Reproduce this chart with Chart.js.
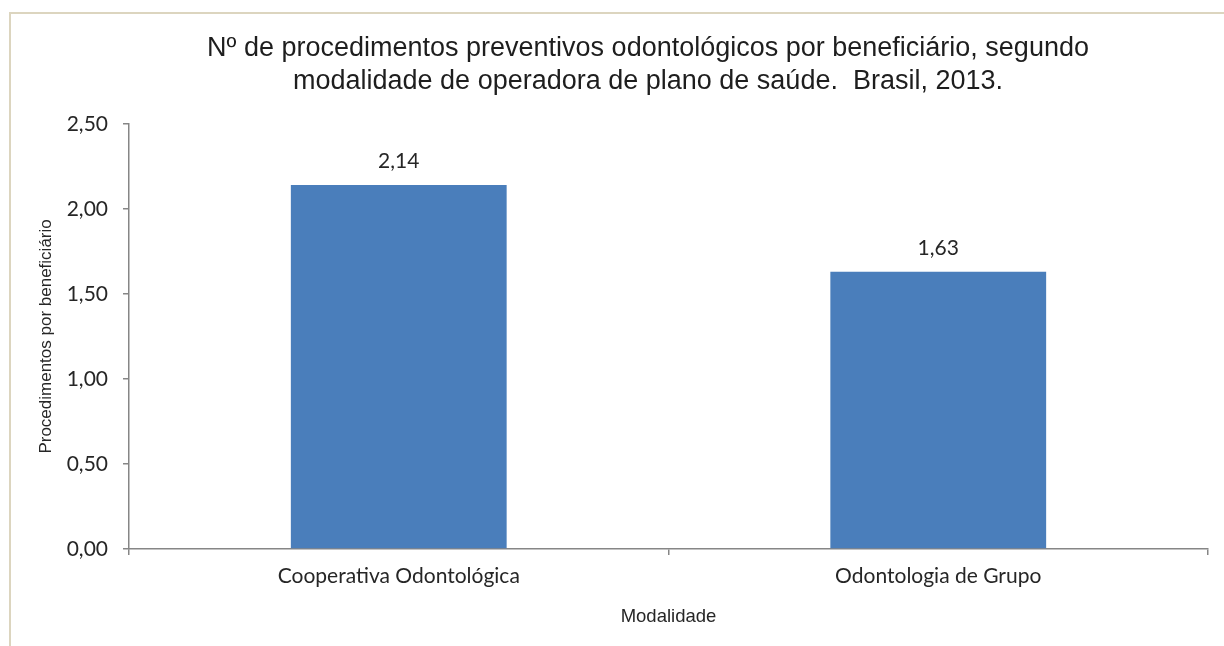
<!DOCTYPE html>
<html>
<head>
<meta charset="utf-8">
<script src="https://cdn.jsdelivr.net/npm/chart.js@4.4.1/dist/chart.umd.min.js"></script>
<style>
  html, body { margin: 0; padding: 0; background: #fff; overflow: hidden; width: 1224px; height: 646px; }
  #moldura { position: absolute; left: 9px; top: 12px; width: 1400px; height: 700px;
             border-top: 2px solid #dcd5bf; border-left: 2px solid #dcd5bf; }
  #caixa { position: absolute; left: 11px; top: 14px; width: 1274px; height: 632px; }
</style>
</head>
<body>
<div id="moldura"></div>
<div id="caixa"><canvas id="barChart"></canvas></div>
<script>
const categorias = ["Cooperativa Odontológica", "Odontologia de Grupo"];
const valores = [2.14, 1.63];
const titulo = ["Nº de procedimentos preventivos odontológicos por beneficiário, segundo",
                "modalidade de operadora de plano de saúde.  Brasil, 2013."];
const tituloY = "Procedimentos por beneficiário";
const tituloX = "Modalidade";

function formatar(v) {
  return v.toFixed(2).replace(".", ",");
}

// rótulos de valor acima das barras
const rotulos = {
  id: "rotulos",
  afterDatasetsDraw(chart) {
    const ctx = chart.ctx;
    const meta = chart.getDatasetMeta(0);
    ctx.save();
    ctx.font = "21px Lato";
    ctx.fillStyle = "#262626";
    ctx.textAlign = "center";
    ctx.textBaseline = "middle";
    meta.data.forEach((bar, i) => {
      ctx.fillText(formatar(valores[i]), bar.x, bar.y - 24);
    });
    ctx.restore();
  }
};

const ctx = document.getElementById("barChart");

new Chart(ctx, {
  type: "bar",
  data: {
    labels: categorias,
    datasets: [{
      data: valores,
      backgroundColor: "#4a7ebb",
      barPercentage: 0.4,
      categoryPercentage: 1
    }]
  },
  options: {
    responsive: true,
    maintainAspectRatio: false,
    animation: false,
    layout: { padding: 0 },
    plugins: {
      legend: { display: false },
      tooltip: { enabled: false },
      title: {
        display: true,
        text: titulo,
        color: "#1e1e1e",
        font: { family: "Liberation Sans", size: 27, weight: "normal", lineHeight: 1.22 },
        padding: { top: 18.5, bottom: 25.5 }
      }
    },
    scales: {
      x: {
        grid: { display: true, drawOnChartArea: false, drawTicks: true, tickLength: 6, color: "#868686", lineWidth: 1.5 },
        border: { display: true, color: "#868686", width: 1.5 },
        ticks: { color: "#262626", font: { family: "Lato", size: 21 }, padding: 9 },
        title: {
          display: true,
          text: tituloX,
          color: "#262626",
          font: { family: "Liberation Sans", size: 18.5 },
          padding: { top: 0, bottom: 18 }
        },
        afterFit(scale) { scale.height = 97; }
      },
      y: {
        min: 0,
        max: 2.5,
        grid: { display: true, drawOnChartArea: false, drawTicks: true, tickLength: 6, color: "#868686", lineWidth: 1.5 },
        border: { display: true, color: "#868686", width: 1.5 },
        ticks: {
          stepSize: 0.5,
          color: "#262626",
          font: { family: "Lato", size: 21 },
          padding: 15,
          callback: v => formatar(v)
        },
        title: {
          display: true,
          text: tituloY,
          color: "#262626",
          font: { family: "Liberation Sans", size: 17 },
          padding: { top: 25.5, bottom: 0 }
        },
        afterFit(scale) { scale.width = 118; }
      },
      // espaço vazio à direita da área do gráfico
      margemDireita: {
        type: "linear",
        position: "right",
        display: true,
        grid: { display: false },
        border: { display: false },
        ticks: { display: false },
        afterFit(scale) { scale.width = 77; }
      }
    }
  },
  plugins: [rotulos]
});
</script>
</body>
</html>
